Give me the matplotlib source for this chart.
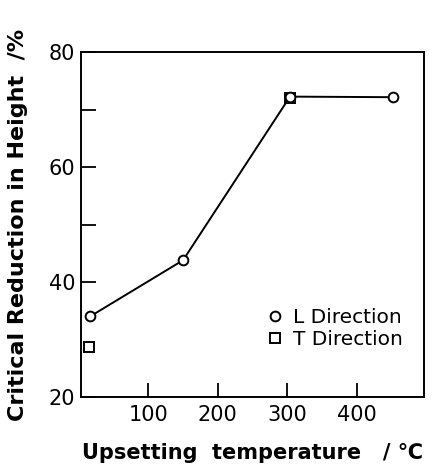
import matplotlib.pyplot as plt
from matplotlib.ticker import FixedLocator
from matplotlib.lines import Line2D

# L direction (circles, connected)
temp_L = [16, 150, 304, 452]
red_L = [34, 43.8, 72.3, 72.2]

# T direction (squares)
temp_T = [15, 304]
red_T = [28.7, 72.1]

x_ticks = [100, 200, 300, 400]
y_ticks = [20, 40, 60, 80]
y_minor = [50, 70]

plt.rcParams['font.family'] = ['DejaVu Sans']

fig = plt.figure(figsize=(4.32, 4.68), dpi=100)
ax = fig.add_axes([0.1875, 0.152, 0.794, 0.736])

ax.plot(temp_L, red_L, color='black', linewidth=1.4, marker='o', markersize=7,
        markerfacecolor='white', markeredgecolor='black', markeredgewidth=1.4,
        zorder=3)
ax.plot(temp_T, red_T, linestyle='none', marker='s', markersize=6.5,
        markerfacecolor='white', markeredgecolor='black', markeredgewidth=1.4,
        zorder=2)

ax.set_xlim(3, 497)
ax.set_ylim(20, 80)
ax.set_xticks(x_ticks)
ax.set_yticks(y_ticks)
ax.yaxis.set_minor_locator(FixedLocator(y_minor))

ax.tick_params(axis='both', which='both', direction='in', top=False, right=False,
               width=1.3, labelsize=15)
ax.tick_params(axis='x', length=10, pad=6)
ax.tick_params(axis='y', which='both', length=11, pad=4)
for s in ax.spines.values():
    s.set_linewidth(1.4)

ax.set_ylabel('Critical Reduction in Height  /%', fontsize=16, fontweight='bold')
ax.yaxis.set_label_coords(-0.155, 0.5)
ax.set_xlabel('Upsetting  temperature   / \u2103', fontsize=15,
              fontweight='bold', va='center')
ax.xaxis.set_label_coords(0.5, -0.163)

# legend shows only the marker symbols
handles = [
    Line2D([], [], linestyle='none', marker='o', markersize=7, markerfacecolor='white',
           markeredgecolor='black', markeredgewidth=1.4),
    Line2D([], [], linestyle='none', marker='s', markersize=6.5, markerfacecolor='white',
           markeredgecolor='black', markeredgewidth=1.4),
]
ax.legend(handles, ['L Direction', 'T Direction'], loc='upper left',
          bbox_to_anchor=(0.52, 0.28), frameon=False, fontsize=14.5,
          handlelength=0.8, handletextpad=0.45, borderaxespad=0, labelspacing=0.15)

fig.savefig('out.png', dpi=100)
